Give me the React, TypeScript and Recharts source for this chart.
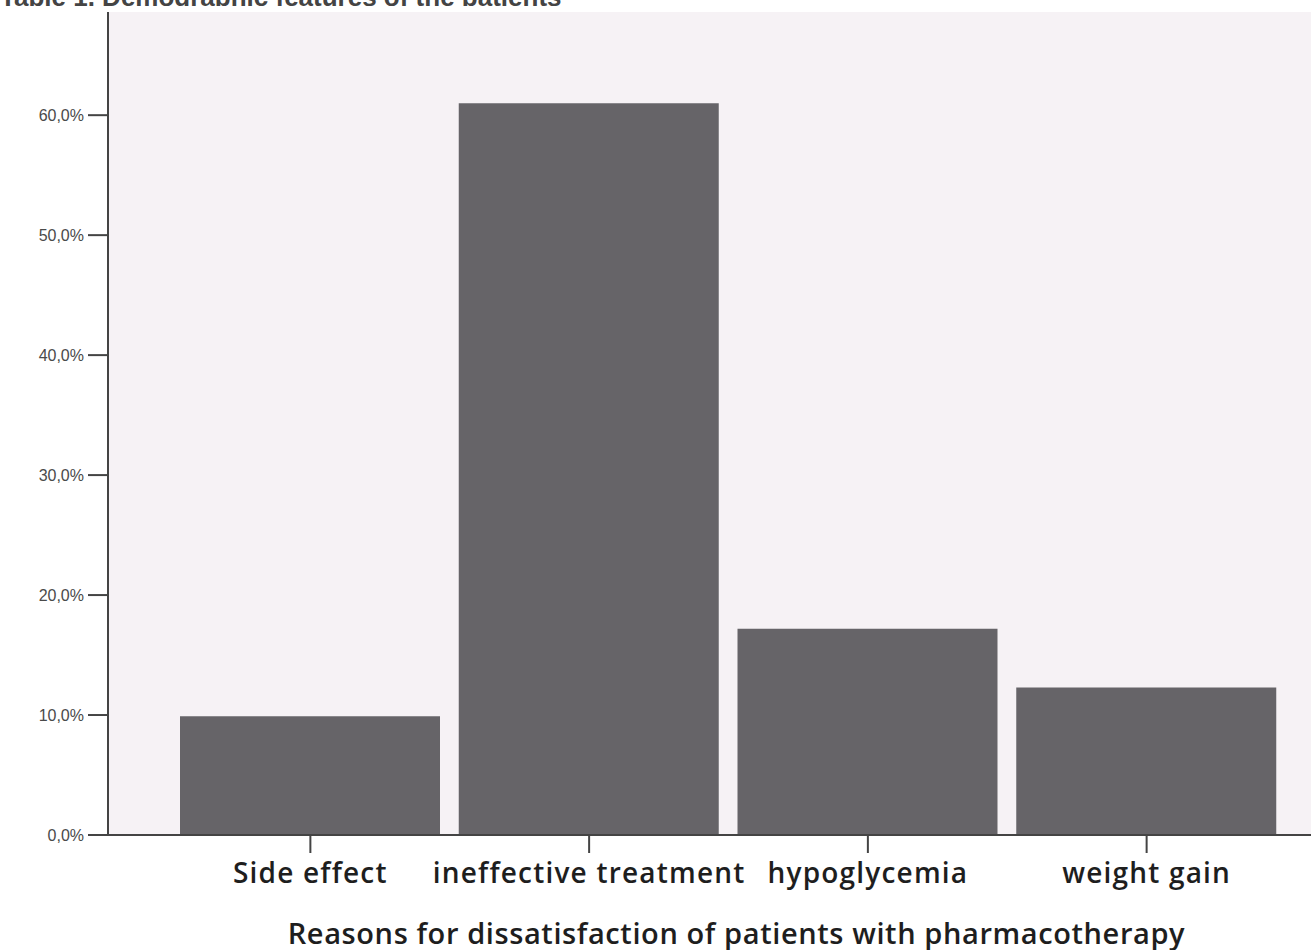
import { Bar, BarChart, CartesianGrid, XAxis, YAxis } from "recharts"

const reasons = ["Side effect", "ineffective treatment", "hypoglycemia", "weight gain"]
const percents = [9.9, 61.0, 17.2, 12.3]
const yTicks = [0, 10, 20, 30, 40, 50, 60]

const data = reasons.map((name, i) => ({ name, value: percents[i] }))

const fmt = (v: number) => v.toFixed(1).replace(".", ",") + "%"

export default function App() {
  return (
    <div style={{ position: "absolute", left: 0, top: 0, width: 1311, height: 950, background: "#fff", overflow: "hidden" }}>
      {/* title is cropped in the source image, only its lower edge shows */}
      <div style={{ position: "absolute", left: 0, top: 0, height: 6, width: 700, overflow: "hidden" }}>
        <div style={{ position: "absolute", left: 0, top: -18, fontFamily: "Liberation Sans, Arial, sans-serif", fontWeight: "bold", fontSize: 26, color: "#444", whiteSpace: "nowrap" }}>
          Table 1. Demographic features of the patients
        </div>
      </div>
      <BarChart
        width={1311}
        height={950}
        data={data}
        margin={{ top: 12, right: 0, bottom: 0, left: 0 }}
        barSize={260}
      >
        <CartesianGrid horizontal={false} vertical={false} fill="#f6f2f5" />
        <XAxis
          dataKey="name"
          height={115}
          padding={{ left: 63, right: 25 }}
          tickSize={18}
          tickMargin={10}
          stroke="#444"
          strokeWidth={2}
          tick={{ fill: "#1e1e1e", fontSize: 28, fontWeight: 600, letterSpacing: 1.2, fontFamily: "Open Sans" }}
          label={{
            value: "Reasons for dissatisfaction of patients with pharmacotherapy",
            position: "insideBottom",
            offset: 6,
            dx: 27,
            fill: "#1e1e1e",
            fontSize: 29,
            fontWeight: 600,
            letterSpacing: 0.6,
            fontFamily: "Open Sans",
          }}
        />
        <YAxis
          width={108}
          domain={[0, 68.6]}
          ticks={yTicks}
          tickFormatter={fmt}
          tickSize={20}
          tickMargin={4}
          stroke="#444"
          strokeWidth={2}
          tick={{ fill: "#4a4a4a", fontSize: 16, fontFamily: "Liberation Sans" }}
        />
        <Bar dataKey="value" fill="#666468" isAnimationActive={false} />
      </BarChart>
    </div>
  )
}
